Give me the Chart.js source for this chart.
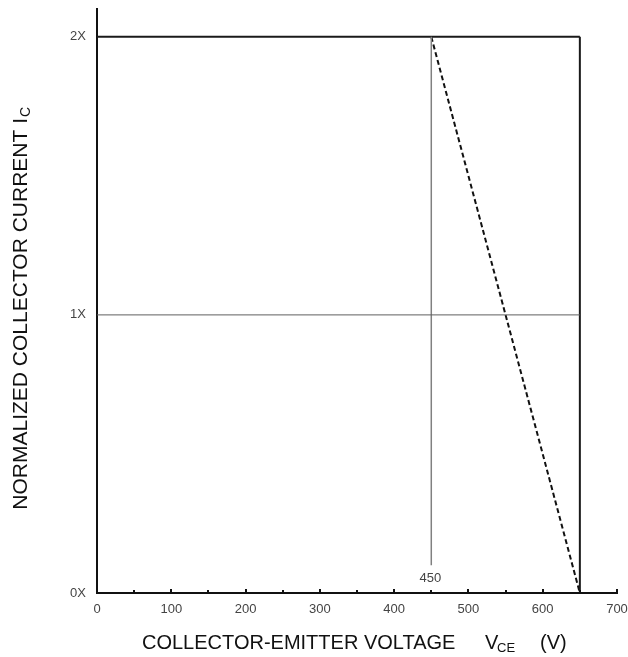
<!DOCTYPE html>
<html>
<head>
<meta charset="utf-8">
<script src="https://cdn.jsdelivr.net/npm/chart.js@4.4.0/dist/chart.umd.min.js"></script>
<style>
html, body { margin: 0; padding: 0; background: #fff; }
#wrap { width: 628px; height: 657px; }
</style>
</head>
<body>
<div id="wrap"><canvas id="soa_chart"></canvas></div>
<script>
// boundary lines of the safe operating area (V, normalized Ic)
var ratingV = [0, 650];
var ratingI = [2, 2];
var cutoffV = [650, 650];
var cutoffI = [2, 0];
var derateV = [450, 650];
var derateI = [2, 0];
var markerV = [450, 450];
var markerI = [0.1, 2];
var refV = [0, 650];
var refI = [1, 1];

var xTicks = [0, 50, 100, 150, 200, 250, 300, 350, 400, 450, 500, 550, 600, 650, 700];
var yTicks = [0, 1, 2];
var yTickLabels = ['0X', '1X', '2X'];
var markerLabel = '450';

function createData(xValues, yValues) {
    return xValues.map((x, index) => {
        return { x: x, y: yValues[index] };
    });
}

function lineSet(xs, ys, color, width, dash) {
    return {
        data: createData(xs, ys),
        showLine: true,
        borderColor: color,
        borderWidth: width,
        borderDash: dash || [],
        pointRadius: 0,
        fill: false
    };
}

var font = '"Liberation Sans", Arial, sans-serif';

// inward tick marks, the 450 label and axis titles with subscripts
var extras = {
    id: 'extras',
    afterDraw(chart) {
        var ctx = chart.ctx;
        var xs = chart.scales.x;
        var ys = chart.scales.y;
        var y0 = ys.getPixelForValue(0);
        ctx.save();
        ctx.strokeStyle = '#111';
        ctx.lineWidth = 2;
        xTicks.forEach(v => {
            if (v === 0) return;
            var px = Math.round(xs.getPixelForValue(v));
            var len = v % 100 === 0 ? 4 : 3;
            ctx.beginPath();
            ctx.moveTo(px, y0);
            ctx.lineTo(px, y0 - len);
            ctx.stroke();
        });

        ctx.fillStyle = '#444';
        ctx.font = '13px ' + font;
        ctx.textAlign = 'center';
        ctx.textBaseline = 'middle';
        ctx.fillText(markerLabel, xs.getPixelForValue(450) - 1, ys.getPixelForValue(0.054));

        // x title
        ctx.fillStyle = '#111';
        ctx.textAlign = 'left';
        ctx.textBaseline = 'alphabetic';
        ctx.font = '20px ' + font;
        ctx.fillText('COLLECTOR-EMITTER VOLTAGE', 142, 649);
        ctx.fillText('V', 485, 649);
        ctx.fillText('(V)', 540, 649);
        ctx.font = '13px ' + font;
        ctx.fillText('CE', 497, 652);

        // y title
        ctx.translate(27, 0);
        ctx.rotate(-Math.PI / 2);
        ctx.font = '21px ' + font;
        ctx.textAlign = 'right';
        ctx.fillText('NORMALIZED COLLECTOR CURRENT I', -118, 0);
        ctx.font = '14px ' + font;
        ctx.textAlign = 'left';
        ctx.fillText('C', -117, 3);
        ctx.restore();
    }
};

var soa_plot = document.getElementById('soa_chart').getContext('2d');
var soaChart = new Chart(soa_plot, {
    type: 'scatter',
    data: {
        datasets: [
            lineSet(refV, refI, '#5e5e5e', 1),
            lineSet(markerV, markerI, '#808080', 1.5),
            lineSet(ratingV, ratingI, '#1a1a1a', 2),
            lineSet(cutoffV, cutoffI, '#1a1a1a', 2),
            lineSet(derateV, derateI, '#111', 2, [5, 3])
        ]
    },
    options: {
        responsive: true,
        maintainAspectRatio: false,
        animation: false,
        events: [],
        layout: {
            padding: { top: 9, right: 11, left: 0, bottom: 0 }
        },
        scales: {
            x: {
                type: 'linear',
                min: 0,
                max: 700,
                afterBuildTicks: s => { s.ticks = xTicks.map(v => ({ value: v })); },
                afterFit: s => {
                    s.height = 64;
                    s.paddingLeft = 0;
                    s.paddingRight = 0;
                },
                grid: { display: false, drawTicks: false },
                border: { display: true, color: '#111', width: 2 },
                ticks: {
                    padding: 9,
                    color: '#444',
                    font: { family: font, size: 13 },
                    maxRotation: 0,
                    autoSkip: false,
                    callback: v => (v % 100 === 0 ? String(v) : '')
                }
            },
            y: {
                type: 'linear',
                min: 0,
                max: 2.1,
                afterBuildTicks: s => { s.ticks = yTicks.map(v => ({ value: v })); },
                afterFit: s => {
                    s.width = 97;
                    s.paddingTop = 0;
                    s.paddingBottom = 0;
                },
                grid: { display: false, drawTicks: false },
                border: { display: true, color: '#111', width: 2 },
                ticks: {
                    padding: 11,
                    color: '#444',
                    font: { family: font, size: 13 },
                    autoSkip: false,
                    callback: (v, i) => yTickLabels[i]
                }
            }
        },
        plugins: {
            legend: { display: false },
            tooltip: { enabled: false },
            title: { display: false }
        }
    },
    plugins: [extras]
});
</script>
</body>
</html>
